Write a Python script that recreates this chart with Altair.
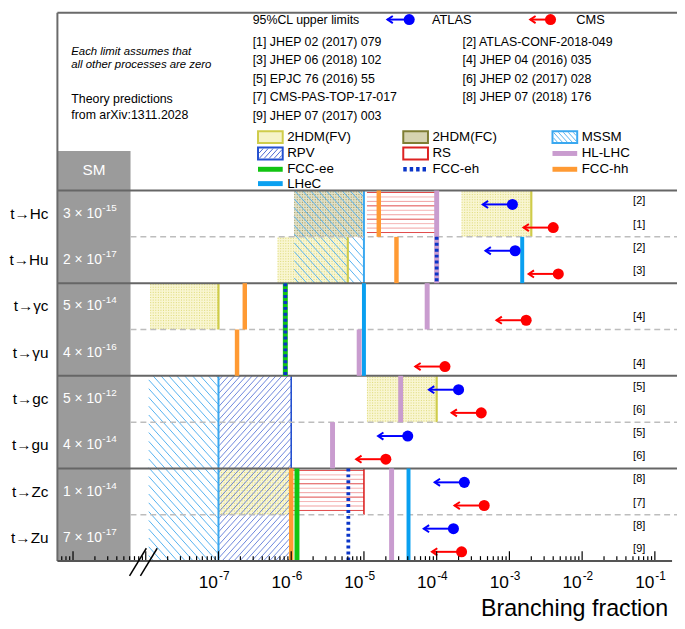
import math
import pandas as pd
import altair as alt

# ======================= DATA =======================
channels = ["t→Hc", "t→Hu", "t→γc", "t→γu", "t→gc", "t→gu", "t→Zc", "t→Zu"]
sm_mantissa = [3, 2, 5, 4, 5, 4, 1, 7]
sm_exponent = [-15, -17, -14, -16, -12, -14, -14, -17]

atlas_channels = ["t→Hc", "t→Hu", "t→gc", "t→gu", "t→Zc", "t→Zu"]
atlas_limits = [1.1e-3, 1.2e-3, 2.0e-4, 4.0e-5, 2.4e-4, 1.7e-4]
atlas_refs = ["[2]", "[2]", "[5]", "[5]", "[8]", "[8]"]

cms_channels = ["t→Hc", "t→Hu", "t→γc", "t→γu", "t→gc", "t→gu", "t→Zc", "t→Zu"]
cms_limits = [4.0e-3, 4.7e-3, 1.7e-3, 1.3e-4, 4.1e-4, 2.0e-5, 4.5e-4, 2.2e-4]
cms_refs = ["[1]", "[3]", "[4]", "[4]", "[6]", "[6]", "[7]", "[9]"]

# theory prediction ranges (boxes)
box_model = ["2HDM(FV)", "2HDM(FV)", "2HDM(FV)", "2HDM(FV)", "2HDM(FV)",
             "2HDM(FC)", "MSSM", "MSSM", "RPV", "RS", "RS"]
box_first = ["t→Hc", "t→Hu", "t→γc", "t→gc", "t→Zc",
             "t→Hc", "t→Hc", "t→gc", "t→gc", "t→Hc", "t→Zc"]
box_last = ["t→Hc", "t→Hu", "t→γc", "t→gc", "t→Zc",
            "t→Hc", "t→Hu", "t→Zu", "t→Zu", "t→Hc", "t→Zc"]
box_low = [2.2e-4, 6.5e-7, 1.15e-8, 1.1e-5, 1.0e-7,
           1.1e-6, 1.1e-6, 1.1e-8, 1.0e-7, 1.1e-5, 1.0e-6]
box_high = [2.0e-3, 6.0e-6, 1.0e-7, 1.0e-4, 1.0e-6,
            1.0e-5, 1.0e-5, 1.0e-7, 1.0e-6, 1.0e-4, 1.0e-5]

# future-collider sensitivities (vertical lines)
proj_model = ["HL-LHC"] * 7 + ["FCC-hh"] * 5 + ["FCC-ee"] * 2 + ["LHeC"] * 3 + ["FCC-eh"] * 3
proj_first = ["t→Hc", "t→Hu", "t→γc", "t→γu", "t→gc", "t→gu", "t→Zc",
              "t→Hc", "t→Hu", "t→γc", "t→γu", "t→Zc",
              "t→γc", "t→Zc",
              "t→Hu", "t→γc", "t→Zc",
              "t→Hu", "t→γc", "t→Zc"]
proj_last = ["t→Hc", "t→Hu", "t→γc", "t→γu", "t→gc", "t→gu", "t→Zu",
             "t→Hc", "t→Hu", "t→γc", "t→γu", "t→Zu",
             "t→γu", "t→Zu",
             "t→Hu", "t→γu", "t→Zu",
             "t→Hu", "t→γu", "t→Zu"]
proj_value = [1.0e-4, 1.0e-4, 7.4e-5, 8.6e-6, 3.2e-5, 3.7e-6, 2.4e-5,
              1.6e-5, 2.8e-5, 2.3e-7, 1.8e-7, 1.0e-6,
              8.3e-7, 1.2e-6,
              1.5e-3, 1.0e-5, 4.1e-5,
              1.0e-4, 8.3e-7, 6.1e-6]

tick_decades = [-7, -6, -5, -4, -3, -2, -1]

refs_left = ["[1] JHEP 02 (2017) 079", "[3] JHEP 06 (2018) 102", "[5] EPJC 76 (2016) 55",
             "[7] CMS-PAS-TOP-17-017", "[9] JHEP 07 (2017) 003"]
refs_right = ["[2] ATLAS-CONF-2018-049", "[4] JHEP 04 (2016) 035", "[6] JHEP 02 (2017) 028",
              "[8] JHEP 07 (2018) 176"]

# ======================= LAYOUT / STYLE =======================
FONT = "Liberation Sans"
W, H = 622, 375
NROWS = 8
ROWPX = H / NROWS
DEC_PX = 73.6
LOG_MIN = -7 - (221 - 58) / DEC_PX
LOG_MAX = LOG_MIN + W / DEC_PX
SM_W = 74
RIGHT = 627

COL = {
    "ATLAS": "#0000ff", "CMS": "#ff0000",
    "HL-LHC": "#c99ccf", "FCC-hh": "#ff9a33", "FCC-ee": "#12c412",
    "LHeC": "#0aa0f0", "FCC-eh": "#0a35c8",
    "2HDM(FV)": "#cfcc4a", "2HDM(FC)": "#7f7d33", "MSSM": "#3aa8f0",
    "RPV": "#2450d0", "RS": "#dd2222",
}
row_of = {c: i for i, c in enumerate(channels)}

xscale = alt.Scale(type="log", domain=[10 ** LOG_MIN, 10 ** LOG_MAX], nice=False)
yscale = alt.Scale(domain=[0, NROWS], reverse=True, nice=False, zero=False)


def X(f):
    return alt.X(f"{f}:Q", scale=xscale, axis=None)


def Y(f):
    return alt.Y(f"{f}:Q", scale=yscale, axis=None)


def PX(f):
    return alt.X(f"{f}:Q", scale=None, axis=None)


def PY(f):
    return alt.Y(f"{f}:Q", scale=None, axis=None)


def to_px(v):
    return (math.log10(v) - LOG_MIN) * DEC_PX


def from_px(p):
    return 10 ** (LOG_MIN + p / DEC_PX)


def ly(ref_y):
    # page y (reference picture) -> plot-area pixel y
    return ref_y - 189


def hatch_segments(x0, x1, y0, y1, step, direction, m=0.9):
    segs = []
    if direction == "\\":
        cmin, cmax = x0 - m * y1, x1 - m * y0
        c = math.ceil(cmin / step) * step
        while c <= cmax:
            ya = max(y0, (x0 - c) / m)
            yb = min(y1, (x1 - c) / m)
            if yb > ya:
                segs.append((m * ya + c, ya, m * yb + c, yb))
            c += step
    else:
        cmin, cmax = x0 + m * y0, x1 + m * y1
        c = math.ceil(cmin / step) * step
        while c <= cmax:
            ya = max(y0, (c - x1) / m)
            yb = min(y1, (c - x0) / m)
            if yb > ya:
                segs.append((c - m * ya, ya, c - m * yb, yb))
            c += step
    return segs


def seg_layer(df, pixel=False, **mk):
    kw = dict(strokeCap="butt")
    kw.update(mk)
    if pixel:
        enc = dict(x=PX("x"), x2=alt.X2("x2"), y=PY("y"), y2=alt.Y2("y2"))
    else:
        enc = dict(x=X("x"), x2=alt.X2("x2"), y=Y("y"), y2=alt.Y2("y2"))
    return alt.Chart(df).mark_rule(**kw).encode(**enc)


def text_layer(df, **mk):
    kw = dict(font=FONT, baseline="middle", align="left", color="black")
    kw.update(mk)
    return alt.Chart(df).mark_text(**kw).encode(x=PX("x"), y=PY("y"), text="t:N")


layers = []
one = pd.DataFrame({"a": [0]})

# ---------- SM column ----------
layers.append(alt.Chart(one).mark_rect(color="#9b9b9b").encode(
    x=alt.value(0), x2=alt.value(SM_W), y=alt.value(ly(149)), y2=alt.value(H)))

# ---------- boxes ----------
boxes = pd.DataFrame({"model": box_model, "first": box_first, "last": box_last,
                      "low": box_low, "high": box_high})
boxes["y"] = boxes["first"].map(row_of)
boxes["y2"] = boxes["last"].map(row_of) + 1

fill_col = {"2HDM(FV)": "#f9f6d2", "2HDM(FC)": "#e2e0c6"}
fills = boxes[boxes.model.isin(fill_col)].copy()
fills["c"] = fills.model.map(fill_col)
layers.append(alt.Chart(fills).mark_rect().encode(
    x=X("low"), x2=alt.X2("high"), y=Y("y"), y2=alt.Y2("y2"),
    color=alt.Color("c:N", scale=None)))

# dotted texture
for model, dcol in [("2HDM(FV)", "#d9d56a"), ("2HDM(FC)", "#8d8a4c")]:
    rows = []
    for _, b in boxes[boxes.model == model].iterrows():
        py0, py1 = b.y * ROWPX, b.y2 * ROWPX
        yy = py0 + 1.5
        while yy < py1:
            rows.append({"x": b.low, "x2": b.high, "y": yy / ROWPX, "y2": yy / ROWPX})
            yy += 2.6
    layers.append(seg_layer(pd.DataFrame(rows), color=dcol, strokeWidth=1,
                            strokeDash=[1, 1.6], opacity=0.9))

# hatching
for model, direction, step, hcol, hw in [("MSSM", "\\", 8, "#55b2f0", 1.0),
                                          ("RPV", "/", 6, "#4a68d2", 0.8)]:
    rows = []
    for _, b in boxes[boxes.model == model].iterrows():
        for (xa, ya, xb, yb) in hatch_segments(to_px(b.low), to_px(b.high),
                                               b.y * ROWPX, b.y2 * ROWPX, step, direction):
            rows.append({"x": from_px(xa), "x2": from_px(xb), "y": ya / ROWPX, "y2": yb / ROWPX})
    layers.append(seg_layer(pd.DataFrame(rows), color=hcol, strokeWidth=hw))

# RS horizontal lines
rows = []
rs_cols = ["#e04848", "#f5b4b4", "#f0a0a0"]
for _, b in boxes[boxes.model == "RS"].iterrows():
    py0, py1 = b.y * ROWPX, b.y2 * ROWPX
    yy, i = py0 + 2, 0
    while yy < py1 - 1:
        rows.append({"x": b.low, "x2": b.high, "y": yy / ROWPX, "y2": yy / ROWPX,
                     "c": rs_cols[i % 3]})
        yy += 4.5
        i += 1
layers.append(alt.Chart(pd.DataFrame(rows)).mark_rule(strokeWidth=1).encode(
    x=X("x"), x2=alt.X2("x2"), y=Y("y"), y2=alt.Y2("y2"), color=alt.Color("c:N", scale=None)))

# right edges of boxes
edge_w = {"2HDM(FV)": 2.2, "MSSM": 2, "RPV": 1.6, "RS": 1.6}
edges = boxes[boxes.model.isin(edge_w)].copy()
edges["c"] = edges.model.map(COL)
edges["w"] = edges.model.map(edge_w)
layers.append(alt.Chart(edges).mark_rule().encode(
    x=X("high"), y=Y("y"), y2=alt.Y2("y2"), color=alt.Color("c:N", scale=None),
    strokeWidth=alt.StrokeWidth("w:Q", scale=None)))

# ---------- separators ----------
layers.append(alt.Chart(pd.DataFrame({"y": [1, 3, 5, 7]})).mark_rule(
    color="#bdbdbd", strokeWidth=1.5, strokeDash=[6, 4]).encode(
    y=Y("y"), x=alt.value(SM_W), x2=alt.value(RIGHT)))
layers.append(alt.Chart(pd.DataFrame({"y": [0, 2, 4, 6]})).mark_rule(
    color="#666666", strokeWidth=2).encode(y=Y("y"), x=alt.value(0), x2=alt.value(RIGHT)))

# ---------- projections ----------
proj = pd.DataFrame({"model": proj_model, "first": proj_first, "last": proj_last, "x": proj_value})
proj["y"] = proj["first"].map(row_of)
proj["y2"] = proj["last"].map(row_of) + 1
proj_w = {"HL-LHC": 5, "FCC-hh": 4.5, "FCC-ee": 5, "LHeC": 4, "FCC-eh": 3.8}
for model in ["HL-LHC", "FCC-hh", "FCC-ee", "LHeC", "FCC-eh"]:
    kw = dict(color=COL[model], strokeWidth=proj_w[model], strokeCap="butt")
    if model == "FCC-eh":
        kw["strokeDash"] = [3, 3]
    layers.append(alt.Chart(proj[proj.model == model]).mark_rule(**kw).encode(
        x=X("x"), y=Y("y"), y2=alt.Y2("y2")))

# ---------- experimental limits ----------
ARROW = 10 ** (30 / DEC_PX)
lim = pd.concat([
    pd.DataFrame({"ch": atlas_channels, "x": atlas_limits, "ref": atlas_refs, "exp": "ATLAS", "off": 0.3}),
    pd.DataFrame({"ch": cms_channels, "x": cms_limits, "ref": cms_refs, "exp": "CMS", "off": 0.8}),
], ignore_index=True)
lim["y"] = lim["ch"].map(row_of) + lim["off"]
lim["tip"] = lim["x"] / ARROW
lim["c"] = lim["exp"].map(COL)
layers.append(alt.Chart(lim).mark_rule(strokeWidth=2).encode(
    x=X("tip"), x2=alt.X2("x"), y=Y("y"), color=alt.Color("c:N", scale=None)))
layers.append(alt.Chart(lim).mark_point(shape="M1.5,-1L0,0L1.5,1", filled=False, size=52,
                                        strokeWidth=2, opacity=1).encode(
    x=X("tip"), y=Y("y"), color=alt.Color("c:N", scale=None)))
layers.append(alt.Chart(lim).mark_circle(size=125, opacity=1).encode(
    x=X("x"), y=Y("y"), color=alt.Color("c:N", scale=None)))
layers.append(alt.Chart(lim).mark_text(font=FONT, fontSize=11, dy=-3, align="center",
                                       baseline="middle").encode(
    x=alt.value(588.7), y=Y("y"), text="ref:N"))

# ---------- row labels & SM values ----------
rl = pd.DataFrame({"ch": channels,
                   "base": [f"{m} × 10" for m in sm_mantissa],
                   "exp": [str(e) for e in sm_exponent]})
rl["y"] = rl["ch"].map(row_of) + 0.5
layers.append(alt.Chart(rl).mark_text(font=FONT, fontSize=15.5, align="right",
                                      baseline="middle").encode(
    x=alt.value(-9), y=Y("y"), text="ch:N"))
layers.append(alt.Chart(rl).mark_text(font=FONT, fontSize=14, align="right",
                                      baseline="middle", color="white").encode(
    x=alt.value(45), y=Y("y"), text="base:N"))
layers.append(alt.Chart(rl).mark_text(font=FONT, fontSize=10, align="left", dy=-6,
                                      baseline="middle", color="white").encode(
    x=alt.value(45.5), y=Y("y"), text="exp:N"))
layers.append(alt.Chart(one).mark_text(font=FONT, fontSize=15.5, color="white").encode(
    x=alt.value(37), y=alt.value(ly(168)), text=alt.value("SM")))

# ---------- frame ----------
frame = pd.DataFrame({"x": [0, 0], "x2": [RIGHT, 0], "y": [ly(9), ly(9)], "y2": [ly(9), H]})
layers.append(seg_layer(frame, pixel=True, color="#6a6a6a", strokeWidth=2))

# ---------- axis ----------
ticks = []
for e in range(-10, 0):
    for m in range(1, 10):
        v = m * 10 ** e
        if 10 ** LOG_MIN <= v <= 10 ** LOG_MAX:
            ln = 10 if m == 1 else 5
            ticks.append({"x": v, "y": NROWS, "y2": NROWS - ln / ROWPX})
layers.append(alt.Chart(pd.DataFrame(ticks)).mark_rule(color="black", strokeWidth=1.2).encode(
    x=X("x"), y=Y("y"), y2=alt.Y2("y2")))
layers.append(alt.Chart(pd.DataFrame({"y": [NROWS]})).mark_rule(color="#555555", strokeWidth=2).encode(
    y=Y("y"), x=alt.value(0), x2=alt.value(RIGHT - 5)))
tl = pd.DataFrame({"x": [10.0 ** d for d in tick_decades],
                   "base": ["10"] * len(tick_decades),
                   "exp": [str(d) for d in tick_decades]})
layers.append(alt.Chart(tl).mark_text(font=FONT, fontSize=17.5, align="right", dx=-0.5,
                                      baseline="middle").encode(
    x=X("x"), y=alt.value(ly(586)), text="base:N"))
layers.append(alt.Chart(tl).mark_text(font=FONT, fontSize=12, align="left", dx=0.5, dy=-7,
                                      baseline="middle").encode(
    x=X("x"), y=alt.value(ly(586)), text="exp:N"))
layers.append(alt.Chart(one).mark_text(font=FONT, fontSize=23.5, align="right",
                                       baseline="middle").encode(
    x=alt.value(676 - 58), y=alt.value(ly(613)), text=alt.value("Branching fraction")))
brk = pd.DataFrame({"x": [73, 84], "x2": [90, 101], "y": [390, 390], "y2": [362, 362]})
layers.append(seg_layer(brk, pixel=True, color="black", strokeWidth=1.5))

# ---------- top legend ----------
tx = []
tx.append({"x": 255.6 - 58, "y": ly(16), "t": "95%CL upper limits", "s": 12.5})
tx.append({"x": 437 - 58, "y": ly(16), "t": "ATLAS", "s": 13})
tx.append({"x": 583 - 58, "y": ly(16), "t": "CMS", "s": 13})
for i, t in enumerate(refs_left):
    tx.append({"x": 255.6 - 58, "y": ly(38.3 + 18.75 * i), "t": t, "s": 12.5})
for i, t in enumerate(refs_right):
    tx.append({"x": 468 - 58, "y": ly(38.3 + 18.75 * i), "t": t, "s": 12.5})
tx.append({"x": 72 - 58, "y": ly(96.3), "t": "Theory predictions", "s": 12.5})
tx.append({"x": 72 - 58, "y": ly(113), "t": "from arXiv:1311.2028", "s": 12.5})
layers.append(alt.Chart(pd.DataFrame(tx)).mark_text(font=FONT, baseline="middle", align="left").encode(
    x=PX("x"), y=PY("y"), text="t:N", size=alt.Size("s:Q", scale=None)))
it = pd.DataFrame({"x": [72 - 58, 72 - 58], "y": [ly(48.7), ly(62)],
                   "t": ["Each limit assumes that", "all other processes are zero"]})
layers.append(text_layer(it, fontSize=11.5, fontStyle="italic"))

la = pd.DataFrame({"x": [392 - 58, 536.5 - 58], "x2": [414 - 58, 557 - 58],
                   "y": [ly(16)] * 2, "y2": [ly(16)] * 2, "c": [COL["ATLAS"], COL["CMS"]]})
layers.append(alt.Chart(la).mark_rule(strokeWidth=2).encode(
    x=PX("x"), x2=alt.X2("x2"), y=PY("y"), color=alt.Color("c:N", scale=None)))
layers.append(alt.Chart(la).mark_point(shape="M1.5,-1L0,0L1.5,1", filled=False, size=52,
                                       strokeWidth=2, opacity=1).encode(
    x=PX("x"), y=PY("y"), color=alt.Color("c:N", scale=None)))
layers.append(alt.Chart(la).mark_circle(size=125, opacity=1).encode(
    x=PX("x2"), y=PY("y"), color=alt.Color("c:N", scale=None)))

# ---------- theory legend ----------
LX = [261 - 58, 408 - 58, 559 - 58]
SW = 25
LY = [ly(135), ly(151.5), ly(167.5), ly(182)]
leg_items = [("2HDM(FV)", 0, 0, "box"), ("2HDM(FC)", 1, 0, "box"), ("MSSM", 2, 0, "box"),
             ("RPV", 0, 1, "box"), ("RS", 1, 1, "box"), ("HL-LHC", 2, 1, "line"),
             ("FCC-ee", 0, 2, "line"), ("FCC-eh", 1, 2, "line"), ("FCC-hh", 2, 2, "line"),
             ("LHeC", 0, 3, "line")]
ltx = [{"x": LX[c] + SW + 4.5, "y": LY[r], "t": n} for n, c, r, _ in leg_items]
layers.append(text_layer(pd.DataFrame(ltx), fontSize=13.5))

sw_fill = {"2HDM(FV)": "#f6f3c8", "2HDM(FC)": "#d6d3b0", "MSSM": "white", "RPV": "white", "RS": "white"}
sw = []
for n, c, r, kind in leg_items:
    if kind == "box":
        sw.append({"x": LX[c], "x2": LX[c] + SW, "y": LY[r] - 6, "y2": LY[r] + 6,
                   "f": sw_fill[n], "s": COL[n]})
sw = pd.DataFrame(sw)
layers.append(alt.Chart(sw).mark_rect(strokeWidth=2).encode(
    x=PX("x"), x2=alt.X2("x2"), y=PY("y"), y2=alt.Y2("y2"),
    fill=alt.Fill("f:N", scale=None), stroke=alt.Stroke("s:N", scale=None)))
hrows = []
for n, direction, step, hcol in [("MSSM", "\\", 5, "#55b2f0"), ("RPV", "/", 5, "#4a68d2")]:
    c, r = [(cc, rr) for nn, cc, rr, _ in leg_items if nn == n][0]
    for (xa, ya, xb, yb) in hatch_segments(LX[c] + 1, LX[c] + SW - 1, LY[r] - 5, LY[r] + 5, step, direction):
        hrows.append({"x": xa, "x2": xb, "y": ya, "y2": yb, "c": hcol})
layers.append(alt.Chart(pd.DataFrame(hrows)).mark_rule(strokeWidth=1).encode(
    x=PX("x"), x2=alt.X2("x2"), y=PY("y"), y2=alt.Y2("y2"), color=alt.Color("c:N", scale=None)))

line_sw = []
for n, c, r, kind in leg_items:
    if kind == "line" and n != "FCC-eh":
        line_sw.append({"x": LX[c], "x2": LX[c] + SW, "y": LY[r], "y2": LY[r], "c": COL[n]})
layers.append(alt.Chart(pd.DataFrame(line_sw)).mark_rule(strokeWidth=5, strokeCap="butt").encode(
    x=PX("x"), x2=alt.X2("x2"), y=PY("y"), color=alt.Color("c:N", scale=None)))
layers.append(alt.Chart(pd.DataFrame({"x": [LX[1]], "x2": [LX[1] + SW], "y": [LY[2]]})).mark_rule(
    strokeWidth=4.5, strokeCap="butt", strokeDash=[3.5, 3], color=COL["FCC-eh"]).encode(
    x=PX("x"), x2=alt.X2("x2"), y=PY("y")))

chart = alt.layer(*layers).properties(
    width=W, height=H,
    autosize=alt.AutoSizeParams(type="none"),
    padding={"left": 50, "top": 181, "right": 5, "bottom": 65},
    background="white",
).configure_view(stroke=None)

chart.save("out.html", embed_options={"renderer": "svg", "actions": False})
